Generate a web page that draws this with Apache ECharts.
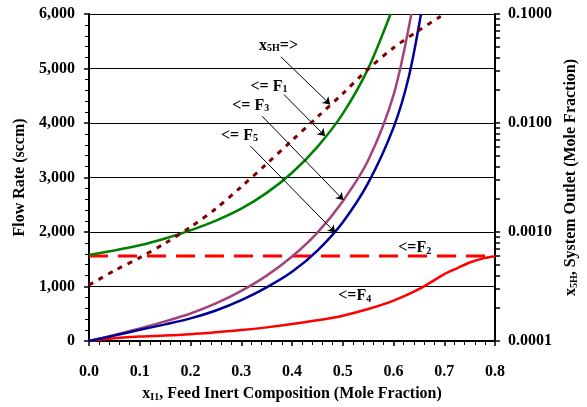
<!DOCTYPE html>
<html><head><meta charset="utf-8">
<script src="https://cdn.jsdelivr.net/npm/echarts@6/dist/echarts.min.js"></script>
<style>html,body{margin:0;padding:0;background:#fff}#c{width:587px;height:407px}</style>
</head><body><div id="c"></div>
<script>
// ---- data ----
const xTickLabels = ['0.0','0.1','0.2','0.3','0.4','0.5','0.6','0.7','0.8'];
const leftTickLabels = ['0','1,000','2,000','3,000','4,000','5,000','6,000'];
const rightTickLabels = ['0.0001','0.0010','0.0100','0.1000'];
const rightTickValues = [0.0001, 0.001, 0.01, 0.1];

const f1X = [0,0.05,0.1,0.15,0.2,0.25,0.3,0.35,0.4,0.45,0.5,0.55,0.594];
const f1Y = [1580,1662,1757,1882,2030,2208,2428,2718,3088,3563,4173,4998,6000];

const f3X = [0,0.05,0.1,0.15,0.2,0.25,0.3,0.35,0.4,0.45,0.5,0.55,0.6,0.635];
const f3Y = [0,110,230,360,505,690,920,1200,1550,1990,2565,3315,4515,6000];

const f5X = [0,0.05,0.1,0.15,0.2,0.25,0.3,0.35,0.4,0.45,0.5,0.55,0.6,0.63,0.654];
const f5Y = [0,100,205,305,415,560,750,985,1270,1660,2180,2900,3920,4850,6000];

const f2X = [0,0.8];
const f2Y = [1560,1560];

const f4X = [0,0.05,0.1,0.15,0.2,0.25,0.3,0.35,0.4,0.45,0.5,0.55,0.6,0.65,0.7,0.726,0.75,0.779,0.8];
const f4Y = [0,50,82,100,125,160,200,250,310,380,465,586,740,950,1227,1338,1441,1520,1555];

const x5hX = [0,0.05,0.1,0.15,0.2,0.25,0.3,0.35,0.4,0.45,0.5,0.55,0.6,0.65,0.693];
const x5hY = [0.000326,0.000442,0.000582,0.00079,0.00111,0.00164,0.0026,0.00422,0.00692,0.01135,0.01862,0.0313,0.049,0.0708,0.0953];

// ---- chart ----
const FONT = '"Liberation Serif", "Times New Roman", serif';
const pairs = (xs, ys) => xs.map((x, i) => [x, ys[i]]);
const logMinor = [];
[0.0001, 0.001, 0.01].forEach(d => { for (let k = 1; k <= 9; k++) logMinor.push(+(d * k).toPrecision(3)); });
logMinor.push(0.1);

const lbl = { color: '#000', fontFamily: FONT, fontWeight: 'bold', fontSize: 16 };
const richSub = { s: { fontFamily: FONT, fontWeight: 'bold', fontSize: 10, color: '#000', verticalAlign: 'bottom' } };

const arrows = [
  [[0.378, 5214], [0.475, 4341]],
  [[0.384, 4524], [0.465, 3760]],
  [[0.341, 4126], [0.501, 2588]],
  [[0.318, 3577], [0.485, 1991]]
];

const SM = 0.3;
const chart = echarts.init(document.getElementById('c'), null, { renderer: 'canvas' });
const option = {
  animation: false,
  backgroundColor: '#fff',
  grid: { left: 89, right: 89, top: 14, bottom: 65, containLabel: false },
  xAxis: {
    type: 'value', min: 0, max: 0.8, interval: 0.1,
    axisLine: { show: true, lineStyle: { color: '#000', width: 2 } },
    axisTick: { show: true, length: 5, lineStyle: { color: '#000', width: 1.5 } },
    minorTick: { show: true, splitNumber: 5, length: 4, lineStyle: { color: '#000', width: 1 } },
    splitLine: { show: false },
    axisLabel: Object.assign({ margin: 23, formatter: (v) => xTickLabels[Math.round(v * 10)] }, lbl),
    name: 'x{s|I1}, Feed Inert Composition (Mole Fraction)',
    nameLocation: 'middle', nameGap: 45,
    nameTextStyle: Object.assign({ rich: richSub }, lbl)
  },
  yAxis: [
    {
      type: 'value', min: 0, max: 6000, interval: 1000, position: 'left',
      axisLine: { show: true, lineStyle: { color: '#000', width: 2 } },
      axisTick: { show: true, length: 5, lineStyle: { color: '#000', width: 1.5 } },
      minorTick: { show: true, splitNumber: 5, length: 4, lineStyle: { color: '#000', width: 1 } },
      splitLine: { show: true, lineStyle: { color: '#000', width: 1 } },
      axisLabel: Object.assign({ margin: 14, formatter: (v) => leftTickLabels[Math.round(v / 1000)] }, lbl),
      name: 'Flow Rate (sccm)', nameLocation: 'middle', nameGap: 60, nameRotate: 90,
      nameTextStyle: lbl
    },
    {
      type: 'log', logBase: 10, min: 0.0001, max: 0.1, position: 'right',
      axisLine: { show: true, lineStyle: { color: '#000', width: 2 } },
      axisTick: { show: true, length: 5, customValues: logMinor, lineStyle: { color: '#000', width: 1.5 } },
      splitLine: { show: false },
      axisLabel: Object.assign({ margin: 13, customValues: rightTickValues,
        formatter: (v) => { const i = rightTickValues.findIndex(t => Math.abs(Math.log10(t) - Math.log10(v)) < 1e-6); return i >= 0 ? rightTickLabels[i] : ''; } }, lbl),
      name: 'x{s|5H}, System Outlet (Mole Fraction)', nameLocation: 'middle', nameGap: 62, nameRotate: 90,
      nameTextStyle: Object.assign({ rich: richSub }, lbl)
    }
  ],
  series: [
    { name: 'F2', type: 'line', data: pairs(f2X, f2Y), showSymbol: false, symbol: 'none',
      lineStyle: { color: '#ff0000', width: 3, type: [19, 10] }, z: 2 },
    { name: 'F4', type: 'line', data: pairs(f4X, f4Y), showSymbol: false, symbol: 'none', smooth: SM,
      lineStyle: { color: '#ff0000', width: 2.5 }, z: 3 },
    { name: 'F1', type: 'line', data: pairs(f1X, f1Y), showSymbol: false, symbol: 'none', smooth: SM,
      lineStyle: { color: '#008000', width: 2.5 }, z: 3,
      markLine: { silent: true, symbol: ['none', 'arrow'], symbolSize: 7, animation: false,
        label: { show: false }, lineStyle: { color: '#000', width: 1, type: 'solid' },
        data: arrows.map(a => [{ coord: a[0] }, { coord: a[1] }]) } },
    { name: 'F3', type: 'line', data: pairs(f3X, f3Y), showSymbol: false, symbol: 'none', smooth: SM,
      lineStyle: { color: '#a3437a', width: 2.5 }, z: 3 },
    { name: 'F5', type: 'line', data: pairs(f5X, f5Y), showSymbol: false, symbol: 'none', smooth: SM,
      lineStyle: { color: '#000099', width: 2.5 }, z: 3 },
    { name: 'x5H', type: 'line', yAxisIndex: 1, data: pairs(x5hX, x5hY), showSymbol: false, symbol: 'none', smooth: SM,
      lineStyle: { color: '#800000', width: 3, type: [5, 6] }, z: 4 }
  ]
};
chart.setOption(option);

// annotation labels placed through the grid's coordinate system
const annot = [
  { t: '{m|x}{s|5H}{m|=>}', at: [0.335, 5421] },
  { t: '{m|<= F}{s|1}', at: [0.318, 4670] },
  { t: '{m|<= F}{s|3}', at: [0.282, 4322] },
  { t: '{m|<= F}{s|5}', at: [0.260, 3773] },
  { t: '{m|<=F}{s|2}', at: [0.609, 1703] },
  { t: '{m|<=F}{s|4}', at: [0.491, 824] }
];
const richAnn = {
  m: { fontFamily: FONT, fontWeight: 'bold', fontSize: 16, fill: '#000', color: '#000' },
  s: { fontFamily: FONT, fontWeight: 'bold', fontSize: 10, fill: '#000', color: '#000', verticalAlign: 'bottom' }
};
chart.setOption({
  graphic: annot.map(a => {
    const p = chart.convertToPixel({ gridIndex: 0 }, a.at);
    return { type: 'text', x: p[0], y: p[1], silent: true, z: 10,
      style: { text: a.t, rich: richAnn, fill: '#000', align: 'left', verticalAlign: 'middle',
        fontFamily: FONT, fontWeight: 'bold', fontSize: 16 } };
  })
});
</script></body></html>
